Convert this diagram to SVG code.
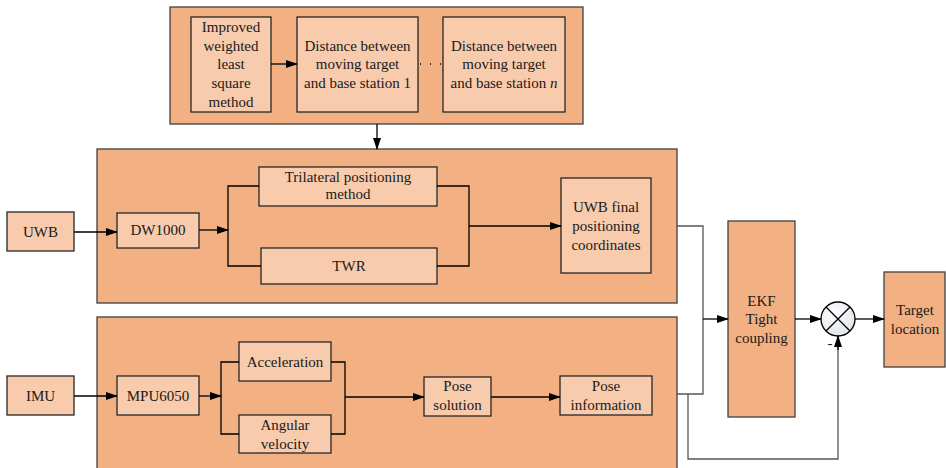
<svg xmlns="http://www.w3.org/2000/svg" width="946" height="468" viewBox="0 0 946 468">
<defs>
<marker id="ah" markerWidth="12" markerHeight="8" refX="11" refY="4" orient="auto" markerUnits="userSpaceOnUse">
<path d="M0,0 L12,4 L0,8 Z" fill="#000"/>
</marker>
<radialGradient id="cg" cx="0.4" cy="0.35" r="0.7">
<stop offset="0" stop-color="#ffffff"/>
<stop offset="1" stop-color="#dfe3ea"/>
</radialGradient>
</defs>
<style>
.cont{fill:#F3B183;stroke:#404040;stroke-width:1.3}
.box{fill:#F8CBAD;stroke:#262626;stroke-width:1.3}
text{font-family:'Liberation Serif','Times New Roman',serif;font-size:15px;fill:#1a1a1a;text-anchor:middle}
.ln{fill:none;stroke:#000;stroke-width:1.3}
.gl{fill:none;stroke:#555;stroke-width:1.3}
</style>
<rect width="946" height="468" fill="#fff"/>
<g font-family="Liberation Serif, serif" font-size="15" text-anchor="middle">
<g id="top-container"><rect class="cont" x="170" y="7" width="413" height="117"/></g>
<g id="uwb-container"><rect class="cont" x="97" y="149" width="580" height="154"/></g>
<g id="imu-container"><rect class="cont" x="97" y="317" width="580" height="160"/></g>

<g id="iwls"><rect class="box" x="191" y="17" width="80" height="95"/>
<text x="231" y="32">Improved</text><text x="231" y="51">weighted</text><text x="231" y="69">least</text><text x="231" y="88">square</text><text x="231" y="107">method</text></g>
<g id="dist1"><rect class="box" x="297" y="17" width="121" height="95"/>
<text x="357.5" y="51">Distance between</text><text x="357.5" y="69">moving target</text><text x="357.5" y="88">and base station 1</text></g>
<g id="distn"><rect class="box" x="443" y="17" width="122" height="95"/>
<text x="504" y="51">Distance between</text><text x="504" y="69">moving target</text><text x="504" y="88">and base station <tspan font-style="italic">n</tspan></text></g>

<g id="uwb"><rect class="box" x="7" y="212" width="67" height="39"/><text x="40.5" y="237">UWB</text></g>
<g id="dw1000"><rect class="box" x="117" y="213" width="82" height="35"/><text x="158" y="235">DW1000</text></g>
<g id="trilateral"><rect class="box" x="259" y="167" width="178" height="39"/>
<text x="348" y="182">Trilateral positioning</text><text x="348" y="199">method</text></g>
<g id="twr"><rect class="box" x="261" y="248" width="176" height="36"/><text x="349" y="271">TWR</text></g>
<g id="uwb-final"><rect class="box" x="561" y="178" width="90" height="95"/>
<text x="606" y="212">UWB final</text><text x="606" y="231">positioning</text><text x="606" y="250">coordinates</text></g>

<g id="imu"><rect class="box" x="7" y="376" width="67" height="39"/><text x="40.5" y="401">IMU</text></g>
<g id="mpu6050"><rect class="box" x="117" y="376" width="82" height="39"/><text x="158" y="401">MPU6050</text></g>
<g id="acceleration"><rect class="box" x="239" y="342" width="92" height="39"/><text x="285" y="367">Acceleration</text></g>
<g id="angular"><rect class="box" x="239" y="415" width="92" height="38"/>
<text x="285" y="430">Angular</text><text x="285" y="449">velocity</text></g>
<g id="pose-solution"><rect class="box" x="424" y="377" width="67" height="39"/>
<text x="457.5" y="391">Pose</text><text x="457.5" y="410">solution</text></g>
<g id="pose-info"><rect class="box" x="560" y="376" width="92" height="39"/>
<text x="606" y="391">Pose</text><text x="606" y="410">information</text></g>

<g id="ekf"><rect class="cont" x="728" y="221" width="67" height="196"/>
<text x="761.5" y="306">EKF</text><text x="761.5" y="324">Tight</text><text x="761.5" y="343">coupling</text></g>
<g id="sum"><circle cx="838" cy="319" r="17" fill="url(#cg)" stroke="#000" stroke-width="1.3"/>
<path d="M826,307 L850,331 M850,307 L826,331" stroke="#000" stroke-width="1.3"/></g>
<g id="target"><rect class="cont" x="884" y="272" width="61" height="95"/>
<text x="915" y="315">Target</text><text x="915" y="334">location</text></g>

<g id="connectors">
<line class="ln" x1="271" y1="64" x2="297" y2="64" marker-end="url(#ah)"/>
<path d="M420,64 h1 M430,64 h1 M440,64 h1" stroke="#000" stroke-width="1.5"/>
<line class="ln" x1="377" y1="124" x2="377" y2="149" marker-end="url(#ah)"/>
<line class="ln" x1="74" y1="232" x2="117" y2="232" marker-end="url(#ah)"/>
<line class="ln" x1="199" y1="230" x2="228" y2="230" marker-end="url(#ah)"/>
<path class="ln" d="M259,186 H228 V266 H261"/>
<path class="ln" d="M437,186 H469 V266 H437"/>
<line class="ln" x1="469" y1="226" x2="561" y2="226" marker-end="url(#ah)"/>
<line class="ln" x1="74" y1="396" x2="117" y2="396" marker-end="url(#ah)"/>
<line class="ln" x1="199" y1="396" x2="221" y2="396" marker-end="url(#ah)"/>
<path class="ln" d="M239,362 H221 V434 H239"/>
<path class="ln" d="M331,362 H345 V434 H331"/>
<line class="ln" x1="345" y1="397" x2="424" y2="397" marker-end="url(#ah)"/>
<line class="ln" x1="491" y1="397" x2="560" y2="397" marker-end="url(#ah)"/>
<path class="gl" d="M677,226 H703 V394 H677"/>
<line class="ln" x1="703" y1="319" x2="728" y2="319" marker-end="url(#ah)"/>
<path class="gl" d="M688,394 V459 H838 V345"/>
<line class="ln" x1="838" y1="350" x2="838" y2="336" marker-end="url(#ah)"/>
<line class="ln" x1="795" y1="319" x2="821" y2="319" marker-end="url(#ah)"/>
<line class="ln" x1="855" y1="319" x2="884" y2="319" marker-end="url(#ah)"/>
<text x="830" y="348">-</text>
</g>
</g>
</svg>
